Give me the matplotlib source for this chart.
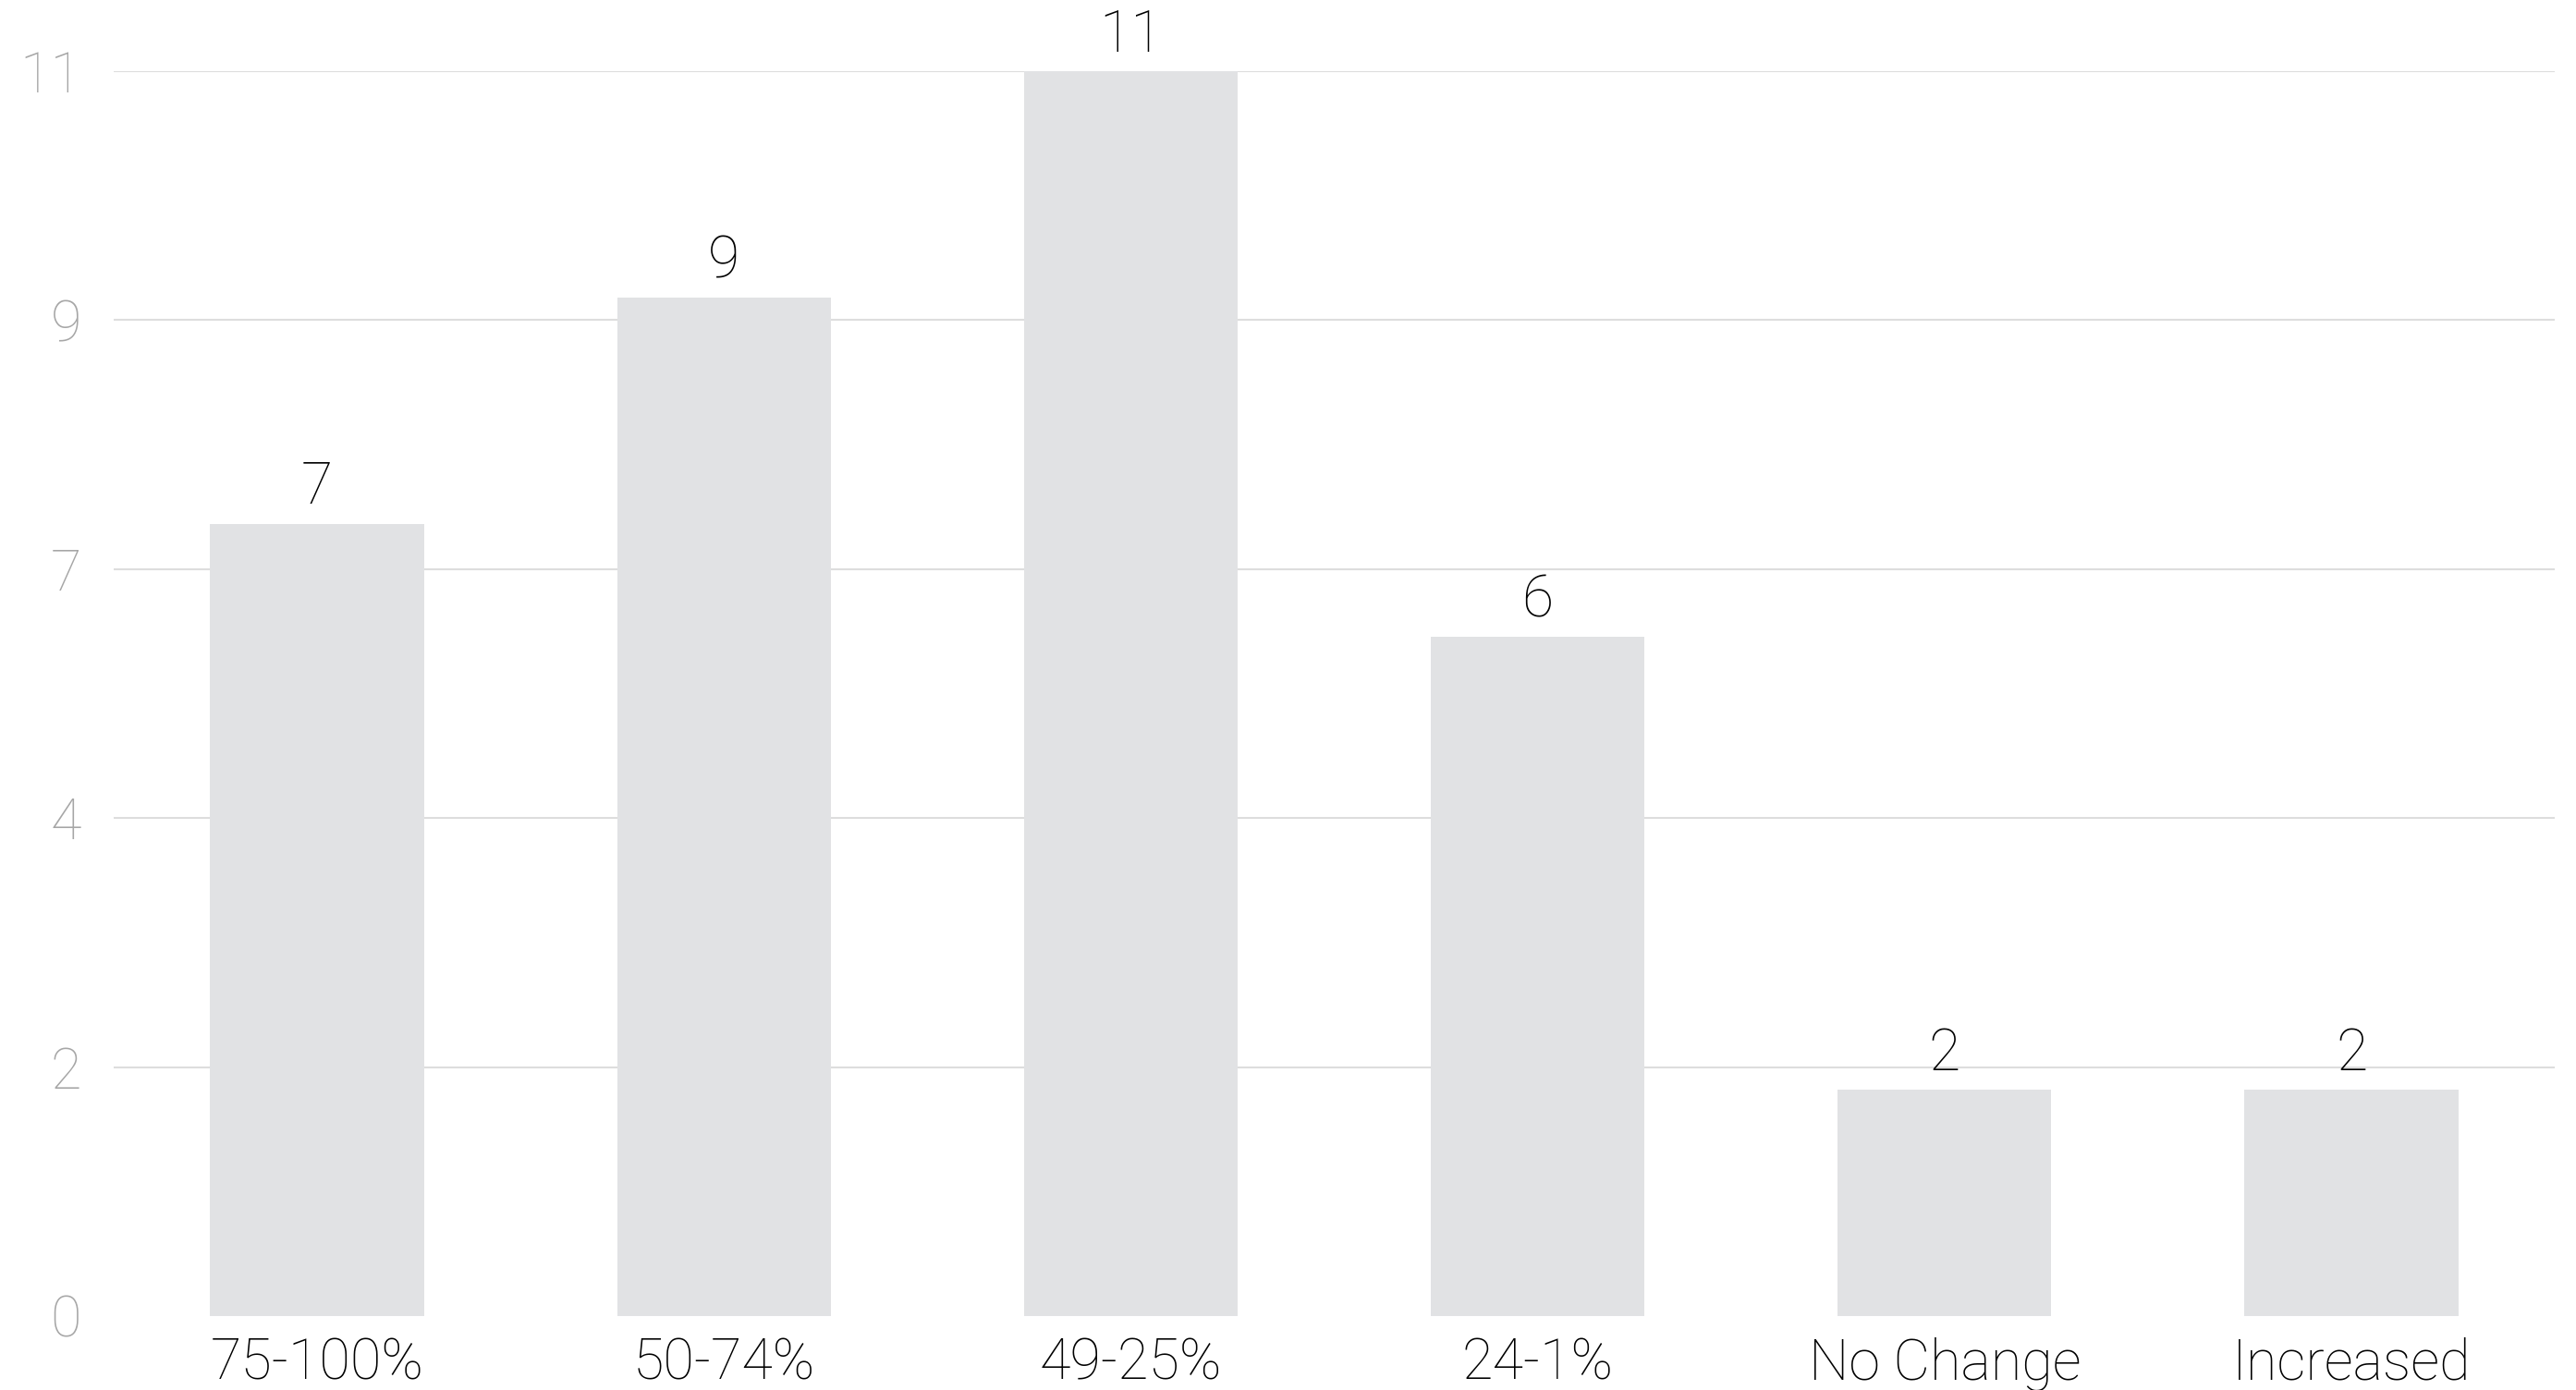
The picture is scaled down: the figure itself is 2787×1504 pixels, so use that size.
import matplotlib.pyplot as plt

# Responses grouped by the size of the change
categories = ['75-100%', '50-74%', '49-25%', '24-1%', 'No Change', 'Increased']
counts = [7, 9, 11, 6, 2, 2]

# Y-axis gridlines and the labels printed beside them
ytick_values = [0, 2.2, 4.4, 6.6, 8.8, 11]
ytick_labels = ['0', '2', '4', '7', '9', '11']

plt.rcParams['font.family'] = ['Roboto', 'DejaVu Sans']
plt.rcParams['font.weight'] = 'light'

fig = plt.figure(figsize=(27.87, 15.04), dpi=100)
ax = fig.add_axes([0.0441, 0.0532, 0.9477, 0.8956])

x = range(len(categories))
bars = ax.bar(x, counts, width=0.525, color='#e1e2e4', zorder=2)

for xi, v in zip(x, counts):
    ax.annotate(str(v), (xi, v), xytext=(0, 6), textcoords='offset points',
                ha='center', va='bottom', fontsize=45, color='#000000',
                fontweight='light')

ax.set_xlim(-0.5, len(categories) - 0.5)
ax.set_ylim(0, 11)
ax.set_xticks(list(x))
ax.set_xticklabels(categories, fontsize=44, color='#000000', fontweight='light')
ax.set_yticks(ytick_values)
ax.set_yticklabels(ytick_labels, fontsize=44, color='#a6a6a6', fontweight='light')
ax.tick_params(axis='x', length=0, pad=16)
ax.tick_params(axis='y', length=0, pad=25)

ax.yaxis.grid(True, color='#dddddd', linewidth=1.5, zorder=1)
ax.set_axisbelow(True)
ax.get_ygridlines()[0].set_visible(False)

for s in ax.spines.values():
    s.set_visible(False)

fig.savefig('out.png', dpi=100)
